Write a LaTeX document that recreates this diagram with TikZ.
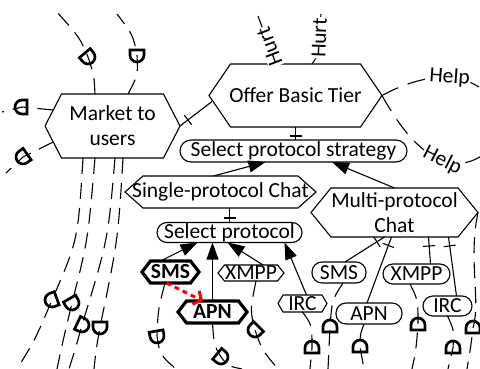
\documentclass[tikz,border=0pt]{standalone}
\usepackage{fontspec}
\setmainfont{Carlito}
\usetikzlibrary{arrows.meta,decorations.markings,calc}
\newcommand\hexdraw[3][]{\draw[line width=1.1pt,#1] (#2.west) -- ([xshift=#3]#2.north west) -- ([xshift=-#3]#2.north east) -- (#2.east) -- ([xshift=-#3]#2.south east) -- ([xshift=#3]#2.south west) -- cycle;}
\tikzset{
  base/.style={font=\fontsize{21.5}{25}\selectfont, inner sep=0pt, outer sep=0pt, align=center},
  boldbase/.style={base, font=\fontsize{21.5}{25}\selectfont\bfseries},
  pill/.style={base, draw, line width=1.1pt, rounded corners=#1},
  lbl/.style={base, fill=white, inner sep=1pt},
  tickat/.style={postaction={decorate, decoration={markings, mark=at position #1 with {\draw[line width=1.1pt, solid] (0pt,-6pt) -- (0pt,6pt);}}}},
  meansend/.style={line width=1.1pt, -{Triangle[length=17pt,width=12pt]}},
  dep/.style={line width=1.1pt, dash pattern=on 16pt off 9pt},
  redarrow/.style={draw=red, line width=3pt, dash pattern=on 5pt off 4pt, -{Straight Barb[length=6pt,width=15pt,line width=3pt]}},
  dee/.pic={\draw[line width=2.7pt, solid, x=1pt, y=1pt] (-5,-7) -- (0,-7) arc[start angle=-90, end angle=90, radius=7] -- (-5,7) -- cycle;}
}
\begin{document}
\begin{tikzpicture}[x=1pt, y=-1pt, line width=1.1pt]
\useasboundingbox (0,0) rectangle (480,369);

% ---------- nodes ----------
\node[base, minimum width=135pt, minimum height=64pt] (market) at (112.5,126) {Market to\\users};
\hexdraw{market}{16.5pt}
\node[base, minimum width=173pt, minimum height=63pt] (offer) at (295.5,95.5) {Offer Basic Tier};
\hexdraw{offer}{21.5pt}
\node[pill=11pt, minimum width=227pt, minimum height=22pt] (selstrat) at (293.5,151) {Select protocol strategy};
\node[base, minimum width=191pt, minimum height=32pt] (single) at (220.5,192) {Single-protocol Chat};
\hexdraw{single}{18pt}
\node[pill=10pt, minimum width=145pt, minimum height=20pt] (selprot) at (229.5,232.5) {Select protocol};
\node[base, minimum width=167pt, minimum height=49pt] (multi) at (394.5,212.5) {Multi-protocol\\Chat};
\hexdraw{multi}{20pt}

\node[boldbase, minimum width=57pt, minimum height=22pt] (smsA) at (170.5,272) {SMS};
\hexdraw[line width=3.2pt]{smsA}{8.5pt}
\node[boldbase, minimum width=69pt, minimum height=22pt] (apnA) at (212.5,312) {APN};
\hexdraw[line width=3.2pt]{apnA}{8.5pt}
\node[base, minimum width=66pt, minimum height=16pt] (xmppA) at (251,273) {XMPP};
\hexdraw{xmppA}{6.5pt}
\node[base, minimum width=49pt, minimum height=17pt] (ircA) at (302.5,303.5) {IRC};
\hexdraw{ircA}{5pt}

\node[pill=10pt, minimum width=54pt, minimum height=21pt] (smsB) at (339,272.5) {SMS};
\node[pill=10pt, minimum width=66pt, minimum height=21pt] (apnB) at (369,313.5) {APN};
\node[pill=10pt, minimum width=67pt, minimum height=20pt] (xmppB) at (416.5,274) {XMPP};
\node[pill=10pt, minimum width=49pt, minimum height=20pt] (ircB) at (447.5,306) {IRC};

% ---------- decomposition / means-end links ----------
\draw[tickat=10pt] (market.east) -- ([shift={(3pt,-6pt)}]offer.west);
\draw[tickat=9pt] (offer.south) -- (offer.south |- selstrat.north);
\draw[meansend] ([xshift=-7pt]single.north) -- ([xshift=-28pt]selstrat.south);
\draw[meansend] (multi.north) -- ([xshift=38.5pt]selstrat.south);
\draw[tickat=10pt] (selprot.north |- single.south) -- (selprot.north);
\draw[meansend] ([xshift=-10pt]smsA.north) -- ([xshift=-32pt]selprot.south);
\draw[meansend] (apnA.north) -- (apnA.north |- selprot.south);
\draw[meansend] ([xshift=12pt]xmppA.north) -- ([xshift=-2pt]selprot.south);
\draw[meansend] ([xshift=4pt]ircA.north) -- ([xshift=55pt]selprot.south);
\draw[tickat=9pt] ([xshift=-10pt]multi.south) -- ([xshift=6pt]smsB.north);
\draw[tickat=9pt] ([xshift=-3pt]multi.south) -- ([xshift=-2pt]apnB.north);
\draw[tickat=9pt] ([xshift=34pt]multi.south) -- ([xshift=14pt]xmppB.north);
\draw[tickat=9pt] ([xshift=54pt]multi.south) -- ([xshift=9pt]ircB.north);
\draw[redarrow] ([xshift=-4pt]smsA.south) -- ([xshift=25pt]apnA.north west);

% ---------- contribution links ----------
\coordinate (hu1) at (258,16);
\coordinate (hu2a) at (318,55);
\coordinate (hu2) at (321,14);
\draw ([xshift=-19.5pt]offer.north) -- (hu1) node[lbl, pos=0.36, rotate=111] (hurtA) {Hurt};
\draw ([xshift=16.5pt]offer.north) -- (hu2a) -- (hu2) node[lbl, pos=0.42, rotate=88] (hurtB) {Hurt};
\coordinate (hp1) at (483,90);
\coordinate (hp2) at (483,155);
\draw[dep, dash pattern=on 18pt off 10pt] (offer.east) .. controls (420,75) and (458,70) .. (hp1) node[lbl, pos=0.62, rotate=-4] (helpA) {Help};
\draw[dep, dash pattern=on 18pt off 10pt] (offer.east) .. controls (400,128) and (438,185) .. (hp2) node[lbl, pos=0.68, rotate=-27] (helpB) {Help};

% ---------- dependency links ----------
\coordinate (dA) at (88,57);   \coordinate (eA) at (57,12);
\draw[dep] ([xshift=-17.5pt]market.north) .. controls (94,75) .. (dA) .. controls (80,38) .. (eA);
\pic[rotate=-50] at (dA) {dee};
\coordinate (dB) at (137,55);  \coordinate (eB) at (117,14);
\draw[dep] ([xshift=15.5pt]market.north) .. controls (138,75) .. (dB) .. controls (133,35) .. (eB);
\pic[rotate=-90] at (dB) {dee};
\coordinate (dC) at (22,107);  \coordinate (eC) at (2,112);
\draw[dep] ($(market.west)!0.5!([xshift=16.5pt]market.north west)$) -- (dC) -- (eC);
\pic[rotate=180] at (dC) {dee};
\coordinate (dD) at (23,157);  \coordinate (eD) at (6,173);
\draw[dep] ($(market.west)!0.5!([xshift=16.5pt]market.south west)$) -- (dD) -- (eD);
\pic[rotate=215] at (dD) {dee};

\coordinate (dE1) at (52,300); \coordinate (eE1) at (17,369);
\draw[dep] ([xshift=-29.5pt]market.south) .. controls (78,240) .. (dE1) .. controls (35,340) .. (eE1);
\pic[rotate=200] at (dE1) {dee};
\coordinate (dE2) at (72,303); \coordinate (eE2) at (57,369);
\draw[dep] ([xshift=-17.5pt]market.south) .. controls (88,240) .. (dE2) .. controls (62,345) .. (eE2);
\pic[rotate=-60] at (dE2) {dee};
\coordinate (dE3) at (82,325); \coordinate (eE3) at (69,369);
\draw[dep] ([xshift=2.5pt]market.south) .. controls (108,240) .. (dE3) .. controls (75,350) .. (eE3);
\pic[rotate=-25] at (dE3) {dee};
\coordinate (dE4) at (100,327); \coordinate (eE4) at (94,369);
\draw[dep] ([xshift=10.5pt]market.south) .. controls (118,240) .. (dE4) .. controls (96,350) .. (eE4);
\pic[rotate=-90] at (dE4) {dee};

\coordinate (dF1) at (157,336); \coordinate (eF1) at (176,369);
\draw[dep] ([xshift=-5.5pt]smsA.south) .. controls (158,310) .. (dF1) .. controls (160,355) .. (eF1);
\pic[rotate=-80] at (dF1) {dee};
\coordinate (dF2) at (221,357); \coordinate (eF2) at (242,369);
\draw[dep] (apnA.south) .. controls (214,345) .. (dF2) .. controls (228,366) .. (eF2);
\pic[rotate=-40] at (dF2) {dee};
\coordinate (dF3) at (255,330); \coordinate (eF3) at (278,369);
\draw[dep] ([xshift=5pt]xmppA.south) .. controls (250,310) .. (dF3) .. controls (262,350) .. (eF3);
\pic[rotate=-135] at (dF3) {dee};
\coordinate (dF4) at (312,348); \coordinate (eF4) at (310,369);
\draw[dep] (ircA.south) .. controls (312,325) .. (dF4) -- (eF4);
\pic[rotate=90] at (dF4) {dee};

\coordinate (dG1) at (330,327); \coordinate (eG1) at (328,369);
\draw[dep] ([xshift=4pt]smsB.south) .. controls (332,300) .. (dG1) -- (eG1);
\pic[rotate=90] at (dG1) {dee};
\coordinate (dG2) at (360,347); \coordinate (eG2) at (364,369);
\draw[dep] ([xshift=-5pt]apnB.south) .. controls (360,335) .. (dG2) -- (eG2);
\pic[rotate=90] at (dG2) {dee};
\coordinate (dG3) at (418,325); \coordinate (eG3) at (412,369);
\draw[dep] ([xshift=-6.5pt]xmppB.south) .. controls (418,300) .. (dG3) .. controls (416,350) .. (eG3);
\pic[rotate=90] at (dG3) {dee};
\coordinate (dG4) at (453,348); \coordinate (eG4) at (448,369);
\draw[dep] (ircB.south) .. controls (454,330) .. (dG4) -- (eG4);
\pic[rotate=90] at (dG4) {dee};
\coordinate (dG5) at (473,328); \coordinate (eG5) at (467,369);
\draw[dep] (multi.east) .. controls (468,260) and (481,300) .. (dG5) .. controls (471,345) .. (eG5);
\pic[rotate=90] at (dG5) {dee};
\end{tikzpicture}
\end{document}
